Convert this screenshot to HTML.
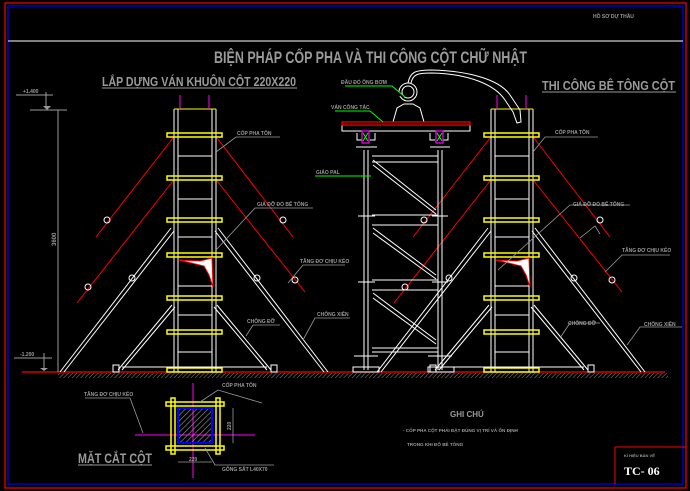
<!DOCTYPE html>
<html><head><meta charset="utf-8"><style>
html,body{margin:0;padding:0;background:#000;}
svg{display:block;}
text{font-family:"Liberation Sans",sans-serif;fill:#9a9a9a;font-weight:bold;}
</style></head><body>
<svg width="690" height="491" viewBox="0 0 690 491" xmlns="http://www.w3.org/2000/svg">
<defs>
<pattern id="h" width="3" height="3" patternUnits="userSpaceOnUse" patternTransform="rotate(45)">
<line x1="0" y1="0" x2="0" y2="3" stroke="#888" stroke-width="1"/></pattern>
<pattern id="h2" width="4" height="4" patternUnits="userSpaceOnUse" patternTransform="rotate(45)">
<line x1="0" y1="0" x2="0" y2="4" stroke="#999" stroke-width="1.2"/></pattern>
<g id="col">
 <g stroke="#fff" stroke-width="1" fill="none">
  <line x1="174" y1="109" x2="174" y2="372"/><line x1="178" y1="109" x2="178" y2="372"/>
  <line x1="212" y1="109" x2="212" y2="372"/><line x1="216" y1="109" x2="216" y2="372"/>
  <line x1="178" y1="156" x2="212" y2="156"/><line x1="178" y1="199" x2="212" y2="199"/>
  <line x1="178" y1="237" x2="212" y2="237"/><line x1="178" y1="286" x2="212" y2="286"/>
  <line x1="178" y1="315" x2="212" y2="315"/><line x1="178" y1="352" x2="212" y2="352"/>
 </g>
 <line x1="174" y1="109" x2="216" y2="109" stroke="#ff0" stroke-width="1"/>
 <line x1="180" y1="95" x2="180" y2="109" stroke="#f0f" stroke-width="1"/>
 <line x1="209" y1="95" x2="209" y2="109" stroke="#f0f" stroke-width="1"/>
 <g stroke="#ff0" stroke-width="1.5" fill="none">
  <rect x="167" y="133" width="55" height="4"/><rect x="167" y="176" width="55" height="4"/>
  <rect x="167" y="218" width="55" height="4"/><rect x="167" y="253" width="55" height="4"/>
  <rect x="167" y="296" width="55" height="4"/><rect x="167" y="330" width="55" height="4"/>
  <rect x="167" y="368" width="55" height="4"/>
 </g>
 <path d="M179 260 L200 261 L212 258 L213 287 L209 275 L204 266 Z" fill="#fff" stroke="#f00" stroke-width="1"/>
 <g stroke="#f00" stroke-width="1">
  <line x1="173" y1="138" x2="96" y2="237"/><line x1="173" y1="181" x2="77" y2="303"/>
  <line x1="217" y1="138" x2="293" y2="237"/><line x1="217" y1="181" x2="305" y2="292"/>
 </g>
 <g stroke="#fff" stroke-width="1" fill="none">
  <line x1="171" y1="228" x2="60" y2="372"/><line x1="174" y1="231" x2="64" y2="372"/>
  <line x1="218" y1="228" x2="328" y2="372"/><line x1="215" y1="231" x2="324" y2="372"/>
  <line x1="172" y1="305" x2="118" y2="370"/><line x1="175" y1="307" x2="122" y2="370"/>
  <line x1="217" y1="305" x2="271" y2="370"/><line x1="214" y1="307" x2="267" y2="370"/>
  <line x1="122" y1="367" x2="267" y2="367"/>
  <rect x="113" y="365" width="6" height="7"/><rect x="271" y="365" width="6" height="7"/>
  <circle cx="107" cy="220" r="3"/><circle cx="88" cy="287" r="3"/>
  <circle cx="283" cy="220" r="3"/><circle cx="295" cy="280" r="3"/>
  <circle cx="132" cy="278" r="3"/><circle cx="257" cy="278" r="3"/>
 </g>
</g>
</defs>

<!-- borders -->
<rect x="5" y="3" width="681" height="485" fill="none" stroke="#f00" stroke-width="1.2"/>
<rect x="8" y="6" width="675" height="478" fill="none" stroke="#00f" stroke-width="1.2"/>
<line x1="8" y1="41" x2="683" y2="41" stroke="#fff" stroke-width="1"/>
<text x="593" y="18" font-size="5">HỒ SƠ DỰ THẦU</text>

<!-- titles -->
<text x="214" y="63" font-size="17" textLength="313" lengthAdjust="spacingAndGlyphs">BIỆN PHÁP CỐP PHA VÀ THI CÔNG CỘT CHỮ NHẬT</text>
<text x="102" y="86" font-size="13" textLength="194" lengthAdjust="spacingAndGlyphs">LẮP DỰNG VÁN KHUÔN CỘT 220X220</text>
<line x1="102" y1="88" x2="297" y2="88" stroke="#9a9a9a"/>
<text x="542" y="90" font-size="13" textLength="133" lengthAdjust="spacingAndGlyphs">THI CÔNG BÊ TÔNG CỘT</text>
<line x1="542" y1="92" x2="676" y2="92" stroke="#9a9a9a"/>

<!-- ground -->
<rect x="58" y="373" width="610" height="5" fill="url(#h)"/>
<line x1="22" y1="372" x2="665" y2="372" stroke="#f00" stroke-width="1.2"/>

<!-- dims left -->
<g stroke="#9a9a9a" stroke-width="1" fill="none">
<line x1="58" y1="110" x2="58" y2="372"/>
<line x1="16" y1="95" x2="53" y2="95"/><line x1="30" y1="110" x2="67" y2="110"/>
<line x1="46" y1="92" x2="46" y2="108"/>
<line x1="14" y1="358" x2="52" y2="358"/><line x1="44" y1="353" x2="44" y2="368"/>
</g>
<path d="M43 106 L51 106 L47 110 Z" fill="#9a9a9a"/>
<path d="M40 368 L48 368 L44 371 Z" fill="#9a9a9a"/>
<text x="23" y="93" font-size="5">+1.400</text>
<text x="20" y="356" font-size="5">-1.200</text>
<text x="0" y="0" font-size="6" transform="translate(56,246) rotate(-90)">3600</text>

<use href="#col"/>
<use href="#col" transform="translate(317,0)"/>

<!-- labels left -->
<g stroke="#9a9a9a" stroke-width="0.8" fill="none">
<polyline points="216,152 236,137 280,137"/>
<polyline points="216,250 255,208 313,208"/>
<polyline points="288,283 303,265 345,265"/>
<polyline points="246,336 253,325 280,325"/>
<polyline points="303,340 315,318 350,318"/>
<polyline points="580,238 595,226 600,234"/>
</g>
<text x="237" y="135" font-size="5">CỐP PHA TÔN</text>
<text x="257" y="206" font-size="5">GIÁ ĐỠ ĐỔ BÊ TÔNG</text>
<text x="300" y="263" font-size="5">TĂNG ĐƠ CHỊU KÉO</text>
<text x="247" y="323" font-size="5">CHỐNG ĐỠ</text>
<text x="317" y="316" font-size="5">CHỐNG XIÊN</text>

<!-- labels right column -->
<g stroke="#9a9a9a" stroke-width="0.8" fill="none">
<polyline points="533,152 545,137 598,137"/>
<polyline points="498,270 570,205 630,205"/>
<polyline points="605,272 622,255 670,255"/>
<polyline points="560,338 570,323 600,323"/>
<polyline points="627,345 640,327 682,327"/>
</g>
<text x="555" y="134" font-size="5">CỐP PHA TÔN</text>
<text x="573" y="206" font-size="5">GIÁ ĐỠ ĐỔ BÊ TÔNG</text>
<text x="622" y="252" font-size="5">TĂNG ĐƠ CHỊU KÉO</text>
<text x="568" y="325" font-size="5">CHỐNG ĐỠ</text>
<text x="644" y="326" font-size="5">CHỐNG XIÊN</text>

<!-- scaffold -->
<g stroke="#fff" stroke-width="1" fill="none">
<line x1="364" y1="150" x2="364" y2="370"/><line x1="368" y1="150" x2="368" y2="370"/>
<line x1="438" y1="150" x2="438" y2="370"/><line x1="442" y1="150" x2="442" y2="370"/>
<line x1="372" y1="156" x2="438" y2="156"/><line x1="372" y1="162" x2="438" y2="162"/>
<line x1="372" y1="215" x2="438" y2="215"/><line x1="372" y1="225" x2="438" y2="225"/>
<line x1="372" y1="280" x2="438" y2="280"/><line x1="372" y1="290" x2="438" y2="290"/>
<line x1="372" y1="348" x2="438" y2="348"/><line x1="372" y1="352" x2="438" y2="352"/>
<line x1="373" y1="160" x2="436" y2="210"/><line x1="373" y1="165" x2="436" y2="214"/>
<line x1="373" y1="228" x2="436" y2="275"/><line x1="373" y1="233" x2="436" y2="279"/>
<line x1="373" y1="293" x2="436" y2="340"/><line x1="373" y1="298" x2="436" y2="344"/>
<line x1="356" y1="147" x2="377" y2="147"/><line x1="430" y1="147" x2="450" y2="147"/>
<line x1="358" y1="216" x2="375" y2="216"/><line x1="432" y1="216" x2="448" y2="216"/>
<line x1="358" y1="282" x2="375" y2="282"/><line x1="432" y1="282" x2="448" y2="282"/>
<line x1="354" y1="356" x2="378" y2="356"/><line x1="428" y1="356" x2="452" y2="356"/>
<rect x="353" y="367" width="26" height="5"/><rect x="428" y="367" width="26" height="5"/>
<rect x="342" y="122" width="128" height="9"/>
<path d="M357 133 v7 h5 M375 133 v7 h-5 M430 133 v7 h5 M448 133 v7 h-5"/>
<path d="M393 122 L397 108 L404 104 L413 104 L420 108 L424 122"/>
<circle cx="408" cy="92" r="9"/><circle cx="408" cy="92" r="6"/>
<path d="M408 83 C410 72 415 70 432 70 C470 71 500 80 510 95 L520 110 L521 122 L517 123 L513 112 L505 100 C495 85 470 74 432 73 C418 73 413 74 411 83"/>
</g>
<rect x="342" y="122" width="128" height="3" fill="none" stroke="#f00" stroke-width="1.2"/>
<rect x="362" y="131" width="7" height="12" fill="none" stroke="#f0f" stroke-width="1.2"/>
<rect x="436" y="131" width="7" height="12" fill="none" stroke="#f0f" stroke-width="1.2"/>
<path d="M363 133 L368 141 M368 133 L363 141 M437 133 L442 141 M442 133 L437 141" stroke="#0f0" stroke-width="1"/>
<g stroke="#0f0" stroke-width="1">
<polyline points="345,86 392,86 405,97"/>
<polyline points="335,111 370,111 383,122"/>
<line x1="315" y1="176" x2="371" y2="176"/>
</g>
<text x="341" y="84" font-size="5">ĐẦU ĐỔ ỐNG BƠM</text>
<text x="331" y="109" font-size="5">VÁN CÔNG TÁC</text>
<text x="316" y="174" font-size="5">GIÁO PAL</text>

<!-- section -->
<g stroke="#f0f" stroke-width="1">
<line x1="135" y1="435" x2="255" y2="435"/><line x1="193" y1="383" x2="193" y2="478"/>
</g>
<rect x="178" y="408" width="34" height="35" fill="url(#h2)" stroke="#00f" stroke-width="2"/>
<g stroke="#ff0" stroke-width="1.5" fill="none">
<rect x="171" y="398" width="4" height="56"/><rect x="216" y="398" width="4" height="56"/>
<rect x="166" y="402" width="58" height="4"/><rect x="166" y="446" width="58" height="4"/>
</g>
<g stroke="#9a9a9a" stroke-width="0.8" fill="none">
<polyline points="85,398 130,398 143,433"/>
<polyline points="200,402 218,390 262,403"/>
<polyline points="205,448 215,465 274,465"/>
<line x1="233" y1="408" x2="233" y2="443"/>
<line x1="178" y1="462" x2="212" y2="462"/>
</g>
<text x="84" y="396" font-size="5">TĂNG ĐƠ CHỊU KÉO</text>
<text x="222" y="387" font-size="5">CỐP PHA TÔN</text>
<text x="222" y="471" font-size="5">GÔNG SẮT L40X70</text>
<text x="0" y="0" font-size="5" transform="translate(231,430) rotate(-90)">220</text>
<text x="189" y="461" font-size="5">220</text>
<text x="78" y="463" font-size="14" textLength="74" lengthAdjust="spacingAndGlyphs">MẶT CẮT CỘT</text>
<line x1="78" y1="465" x2="152" y2="465" stroke="#9a9a9a"/>

<!-- notes -->
<text x="450" y="417" font-size="8">GHI CHÚ</text>
<text x="403" y="432" font-size="4.6">- CỐP PHA CỘT PHẢI ĐẶT ĐÚNG VỊ TRÍ VÀ ỔN ĐỊNH</text>
<text x="407" y="446" font-size="4.6">TRONG KHI ĐỔ BÊ TÔNG</text>

<!-- title block -->
<polyline points="615,484 615,447 686,447" fill="none" stroke="#f00" stroke-width="1"/>
<text x="624" y="457" font-size="4">KÍ HIỆU BẢN VẼ</text>
<text x="624" y="475" font-size="12" style="font-family:'Liberation Serif',serif;fill:#fff">TC- 06</text>
</svg>
</body></html>
